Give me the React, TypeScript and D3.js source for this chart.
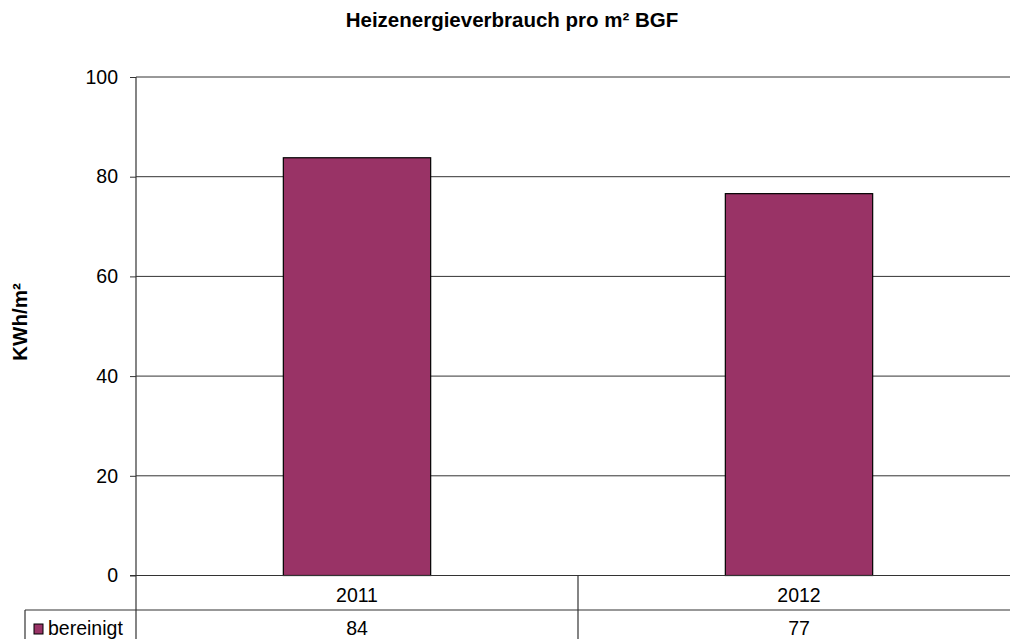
import React, { useEffect, useRef } from 'react';
import * as d3 from 'd3';

const categories = ['2011', '2012'];
const seriesName = 'bereinigt';
const values = [83.8, 76.6];
const yTicks = [0, 20, 40, 60, 80, 100];
const title = 'Heizenergieverbrauch pro m² BGF';
const yTitle = 'KWh/m²';

const App = () => {
    const svgRef = useRef<SVGSVGElement>(null);

    useEffect(() => {
        const svg = d3.select(svgRef.current);
        svg.selectAll('*').remove();

        const width = 1010;
        const height = 639;
        const left = 136;
        const right = 1020;
        const top = 77;
        const bottom = 575.5;
        const rowH = 34.5;
        const font = '"Liberation Sans", Arial, sans-serif';
        const fs = 19.5;

        const x = d3.scaleBand<string>()
            .domain(categories)
            .range([left, right]);

        const y = d3.scaleLinear()
            .domain([0, 100])
            .range([bottom, top]);

        svg.append('rect')
            .attr('width', width)
            .attr('height', height)
            .attr('fill', '#fff');

        // title
        svg.append('text')
            .attr('x', 512)
            .attr('y', 27)
            .attr('text-anchor', 'middle')
            .attr('font-family', font)
            .attr('font-weight', 'bold')
            .attr('font-size', 20.5)
            .text(title);

        // y title
        svg.append('text')
            .attr('transform', `translate(27,322) rotate(-90)`)
            .attr('text-anchor', 'middle')
            .attr('font-family', font)
            .attr('font-weight', 'bold')
            .attr('font-size', 20.5)
            .text(yTitle);

        // gridlines
        svg.append('g')
            .selectAll('line')
            .data(yTicks.filter(d => d > 0))
            .enter().append('line')
            .attr('x1', left)
            .attr('x2', right)
            .attr('y1', d => y(d))
            .attr('y2', d => y(d))
            .attr('stroke', '#333')
            .attr('stroke-width', 1);

        // bars
        const barW = x.bandwidth() / 3;
        svg.append('g')
            .selectAll('rect')
            .data(values)
            .enter().append('rect')
            .attr('x', (d, i) => x(categories[i])! + x.bandwidth() / 2 - barW / 2)
            .attr('y', d => y(d))
            .attr('width', barW)
            .attr('height', d => bottom - y(d))
            .attr('fill', '#993366')
            .attr('stroke', '#000')
            .attr('stroke-width', 1.2);

        // y axis
        svg.append('g')
            .attr('transform', `translate(${left},0)`)
            .call(d3.axisLeft(y).tickValues(yTicks).tickSize(6).tickPadding(12).tickFormat(d3.format('d')))
            .call(g => g.select('.domain').remove())
            .call(g => g.selectAll('line').attr('stroke', '#333'))
            .call(g => g.selectAll('text')
                .attr('font-family', font)
                .attr('font-size', fs)
                .attr('fill', '#000'));

        // axis line + table lines
        const lines = svg.append('g').attr('stroke', '#333').attr('stroke-width', 1.2);
        lines.append('line').attr('x1', left).attr('x2', left).attr('y1', top).attr('y2', height);
        lines.append('line').attr('x1', left - 6).attr('x2', right).attr('y1', bottom).attr('y2', bottom);
        lines.append('line').attr('x1', 25).attr('x2', right).attr('y1', bottom + rowH).attr('y2', bottom + rowH);
        lines.append('line').attr('x1', 25).attr('x2', 25).attr('y1', bottom + rowH).attr('y2', height);
        categories.slice(1).forEach(c => {
            lines.append('line')
                .attr('x1', x(c)!).attr('x2', x(c)!)
                .attr('y1', bottom).attr('y2', height);
        });

        // table text
        const table = svg.append('g')
            .attr('font-family', font)
            .attr('font-size', fs)
            .attr('text-anchor', 'middle');

        table.selectAll('.cat')
            .data(categories)
            .enter().append('text')
            .attr('class', 'cat')
            .attr('x', d => x(d)! + x.bandwidth() / 2)
            .attr('y', bottom + 26)
            .text(d => d);

        table.selectAll('.val')
            .data(values)
            .enter().append('text')
            .attr('class', 'val')
            .attr('x', (d, i) => x(categories[i])! + x.bandwidth() / 2)
            .attr('y', bottom + rowH + 25)
            .text(d => d3.format('.0f')(d));

        // legend key
        svg.append('rect')
            .attr('x', 34)
            .attr('y', 624)
            .attr('width', 9)
            .attr('height', 10)
            .attr('fill', '#993366')
            .attr('stroke', '#000');

        svg.append('text')
            .attr('x', 48)
            .attr('y', bottom + rowH + 25)
            .attr('font-family', font)
            .attr('font-size', fs)
            .text(seriesName);
    }, []);

    return (
        <svg ref={svgRef} width={1010} height={639} style={{ position: 'absolute', left: 0, top: 0 }}></svg>
    );
};

export default App;
